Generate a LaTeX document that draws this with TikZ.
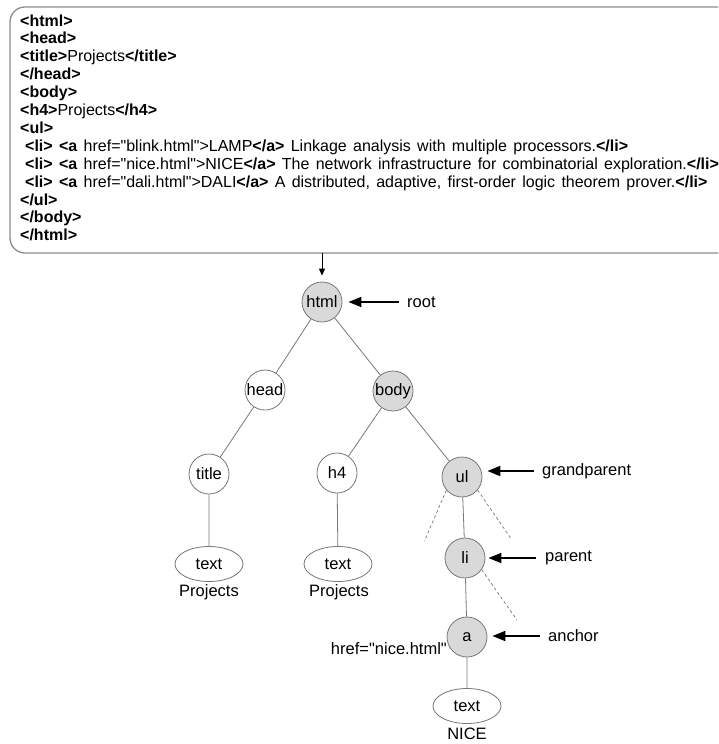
\documentclass[tikz,border=0pt]{standalone}
\usepackage{fontspec}
\setmainfont{Liberation Sans}[Ligatures=TeXOff]
\usetikzlibrary{arrows.meta,shapes.geometric}
\definecolor{edgegray}{HTML}{777777}
\definecolor{boxgray}{HTML}{8C8C8C}
\definecolor{nodegray}{HTML}{D9D9D9}
\newcommand{\codefnt}{\fontsize{16}{18}\selectfont\spaceskip 6.3pt plus 0pt minus 0pt\relax}
\newcommand{\treefnt}{\fontsize{16.5}{19}\selectfont}
\begin{document}
\begin{tikzpicture}[x=1pt,y=-1pt,
  codeline/.style={anchor=base west, inner sep=0pt, font=\codefnt},
  tnode/.style={circle, draw=edgegray, line width=0.8pt, minimum size=40pt, inner sep=0pt, font=\treefnt},
  gnode/.style={tnode, fill=nodegray},
  wnode/.style={tnode, fill=white},
  enode/.style={ellipse, draw=edgegray, line width=0.8pt, fill=white, minimum width=68pt, minimum height=35pt, inner sep=0pt, font=\treefnt},
  lbl/.style={inner sep=0pt, font=\treefnt},
  edge/.style={draw=edgegray, line width=0.8pt},
  dashline/.style={draw=edgegray, line width=0.7pt, dash pattern=on 3pt off 2.5pt},
  ptr/.style={black, line width=1.8pt, -{Triangle[length=13pt,width=10pt]}},
  inptr/.style={black, line width=1pt, -{Triangle[length=7pt,width=6pt]}}
]
\useasboundingbox (0,0) rectangle (718,744);
\clip (0,0) rectangle (718,744);
% code box
\draw[boxgray, line width=1.3pt, rounded corners=15pt] (740,7) -- (10,7) -- (10,253) -- (740,253);
\coordinate (boxbot) at (322,253);
\node[codeline] (l1) at (20,26) {\textbf{<html>}};
\node[codeline] (l2) at (20,43.9) {\textbf{<head>}};
\node[codeline] (l3) at (20,61.8) {\textbf{<title>}Projects\textbf{</title>}};
\node[codeline] (l4) at (20,79.7) {\textbf{</head>}};
\node[codeline] (l5) at (20,97.6) {\textbf{<body>}};
\node[codeline] (l6) at (20,115.5) {\textbf{<h4>}Projects\textbf{</h4>}};
\node[codeline] (l7) at (20,133.4) {\textbf{<ul>}};
\node[codeline] (l8) at (25,151.3) {\textbf{<li> <a} href="blink.html">LAMP\textbf{</a>} Linkage analysis with multiple processors.\textbf{</li>}};
\node[codeline] (l9) at (25,169.2) {\textbf{<li> <a} href="nice.html">NICE\textbf{</a>} The network infrastructure for combinatorial exploration.\textbf{</li>}};
\node[codeline] (l10) at (25,187.1) {\textbf{<li> <a} href="dali.html">DALI\textbf{</a>} A distributed, adaptive, first-order logic theorem prover.\textbf{</li>}};
\node[codeline] (l11) at (20,205) {\textbf{</ul>}};
\node[codeline] (l12) at (20,222.9) {\textbf{</body>}};
\node[codeline] (l13) at (20,240.8) {\textbf{</html>}};
% tree
\node[gnode] (html) at (322,302) {html};
\node[wnode] (head) at (265,390) {head};
\node[gnode] (body) at (393,391) {body};
\node[wnode] (title) at (209,474) {title};
\node[wnode] (h4) at (337,473) {h4};
\node[gnode] (ul) at (462,477) {ul};
\node[gnode] (li) at (465,558) {li};
\node[gnode] (a) at (467,637) {a};
\node[enode] (t1) at (209,564) {text};
\node[enode] (t2) at (338,564) {text};
\node[enode] (t3) at (467,706) {text};
\node[lbl] (p1) at (209,592) {Projects};
\node[lbl] (p2) at (339,592) {Projects};
\node[lbl] (nice) at (467,734) {NICE};
\node[lbl, anchor=east] (href) at (447,649) {href="nice.html"};
\path[edge] (html) -- (head) (html) -- (body) (head) -- (title) (body) -- (h4)
  (body) -- (ul) (ul) -- (li) (li) -- (a) (a) -- (t3) (title) -- (t1) (h4) -- (t2);
\path[dashline] (ul.220) -- ++(-22,51) (ul.320) -- ++(33,48) (li.325) -- ++(35,50);
% labels and pointers
\node[lbl, anchor=west] (root) at (407,302) {root};
\node[lbl, anchor=west] (gp) at (542,471) {grandparent};
\node[lbl, anchor=west] (par) at (545,558) {parent};
\node[lbl, anchor=west] (anc) at (548,636) {anchor};
\draw[ptr, shorten <=8pt, shorten >=6pt] (root.west) -- (html.east);
\draw[ptr, shorten <=8pt, shorten >=5pt] (gp.west) -- (gp.west -| ul.east);
\draw[ptr, shorten <=9pt, shorten >=3pt] (par.west) -- (par.west -| li.east);
\draw[ptr, shorten <=8pt, shorten >=5pt] (anc.west) -- (anc.west -| a.east);
\draw[inptr, shorten >=6pt] (boxbot) -- (html);
\end{tikzpicture}
\end{document}
